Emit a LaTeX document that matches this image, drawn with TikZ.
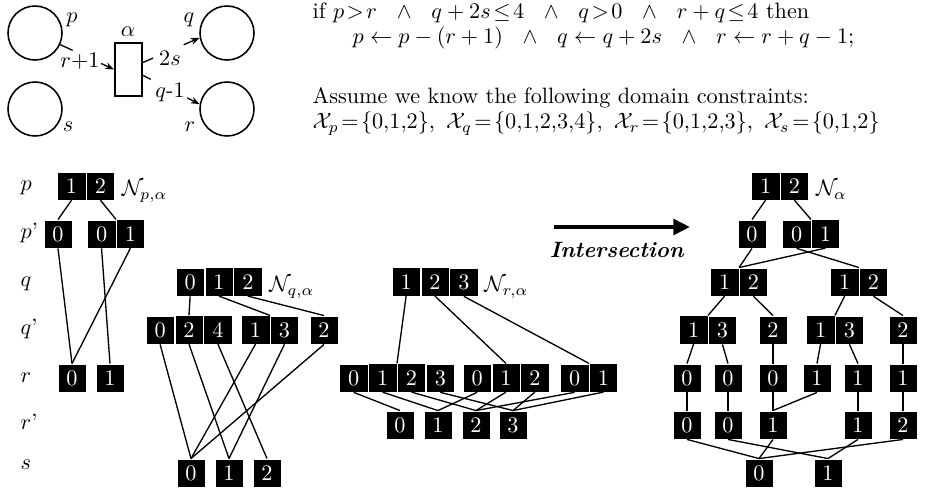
\documentclass[tikz,border=0pt]{standalone}
\usepackage{amsmath}
\usepackage{amssymb}
\usepackage{tikz}
\usetikzlibrary{matrix,arrows.meta}

\tikzset{
  cell/.style={fill=black,text=white,draw=white,line width=.2pt,minimum size=12.8pt,inner sep=0pt},
  mdd/.style={matrix of nodes,nodes={cell},column sep=0pt,inner sep=0pt,outer sep=0pt},
  link/.style={line width=.6pt},
  pnplace/.style={circle,draw,line width=.7pt,minimum size=24.3pt,inner sep=0pt},
  pntrans/.style={rectangle,draw,line width=.7pt,minimum width=12.2pt,minimum height=23.9pt,inner sep=0pt},
  parc/.style={line width=.6pt},
  arrowin/.style={-{Stealth[length=4pt,width=3pt]}},
  rowlbl/.style={anchor=base west,inner sep=1pt},
  nlbl/.style={anchor=base west,inner sep=1pt},
  rule/.style={anchor=base west,inner sep=1pt},
}

\begin{document}
\begin{tikzpicture}[x=0.45pt,y=-0.45pt]
\useasboundingbox (0,0) rectangle (935,492);

% the net
\node[pnplace] (p) at (35,33) {};
\node[pnplace] (s) at (35,109) {};
\node[pnplace] (q) at (227,33) {};
\node[pnplace] (r) at (227,109) {};
\node[pntrans] (t) at (128.5,69.5) {};
\node (lp) at (72,20) {$p$};
\node (ls) at (68,127) {$s$};
\node (lq) at (189,20) {$q$};
\node (lr) at (190,127) {$r$};
\node (la) at (128,32) {$\alpha$};

\path (p) -- (t.west) coordinate[pos=.23] (pt1) coordinate[pos=.76] (pt2);
\path (t.26) -- (q.190) coordinate[pos=.18] (tq1) coordinate[pos=.72] (tq2);
\path (t.-22) -- (r.170) coordinate[pos=.14] (tr1) coordinate[pos=.78] (tr2);
\draw[parc] (p) -- (pt1);
\draw[parc,arrowin] (pt2) -- (t.west);
\draw[parc] (t.26) -- (tq1);
\draw[parc,arrowin] (tq2) -- (q.190);
\draw[parc] (t.-22) -- (tr1);
\draw[parc,arrowin] (tr2) -- (r.170);
\node (w1) at (80,61) {$r$+1};
\node (w2) at (170,58) {2$s$};
\node (w3) at (170,92) {$q$-1};

% the rule
\node[rule] (c1) at (310,19) {if $p\!>\!r\ \ \wedge\ \ q+2s\!\leq\!4\ \ \wedge\ \ q\!>\!0\ \ \wedge\ \ r+q\!\leq\!4$ then};
\node[rule] (c2) at (350,44) {$p\leftarrow p-(r+1)\ \ \wedge\ \ q\leftarrow q+2s\ \ \wedge\ \ r\leftarrow r+q-1$;};
\node[rule] (c3) at (310,104) {Assume we know the following domain constraints:};
\node[rule] (c4) at (310,129) {$\mathcal{X}_p\!=\!\{0{,}1{,}2\},\ \mathcal{X}_q\!=\!\{0{,}1{,}2{,}3{,}4\},\ \mathcal{X}_r\!=\!\{0{,}1{,}2{,}3\},\ \mathcal{X}_s\!=\!\{0{,}1{,}2\}$};

% variable order
\node[rowlbl] (vp) at (18,191) {$p$};
\node[rowlbl] (vpp) at (18,239) {$p$'};
\node[rowlbl] (vq) at (18,287) {$q$};
\node[rowlbl] (vqq) at (18,335) {$q$'};
\node[rowlbl] (vr) at (18,383) {$r$};
\node[rowlbl] (vrr) at (18,430) {$r$'};
\node[rowlbl] (vs) at (18,470) {$s$};

% N_{p,alpha}
\matrix (np1) [mdd] at (86,186) {1 & 2\\};
\node[cell] (np2a) at (58,234) {0};
\matrix (np2b) [mdd] at (116,234) {0 & 1\\};
\node[cell] (np3a) at (72,378) {0};
\node[cell] (np3b) at (110,378) {1};
\node[nlbl] (nlp) at ([xshift=2pt,yshift=-4.5pt]np1.east) {$\mathcal{N}_{p,\alpha}$};
\foreach \a/\b in {np1-1-1/np2a,np1-1-2/np2b,np2a/np3a,np2b-1-1/np3b,np2b-1-2/np3a}
  \draw[link] (\a.south) -- (\b.north);

% N_{q,alpha}
\matrix (nq1) [mdd] at (219,282) {0 & 1 & 2\\};
\matrix (nq2a) [mdd] at (189,330) {0 & 2 & 4\\};
\matrix (nq2b) [mdd] at (270,330) {1 & 3\\};
\node[cell] (nq2c) at (324,330) {2};
\node[cell] (nq3a) at (191,473) {0};
\node[cell] (nq3b) at (229,473) {1};
\node[cell] (nq3c) at (267,473) {2};
\node[nlbl] (nlq) at ([xshift=2pt,yshift=-4.5pt]nq1.east) {$\mathcal{N}_{q,\alpha}$};
\foreach \a/\b in {nq1-1-1/nq2a,nq1-1-2/nq2b,nq1-1-3/nq2c,
  nq2a-1-1/nq3a,nq2a-1-2/nq3b,nq2a-1-3/nq3c,nq2b-1-1/nq3a,nq2b-1-2/nq3b,nq2c/nq3a}
  \draw[link] (\a.south) -- (\b.north);

% N_{r,alpha}
\matrix (nr1) [mdd] at (435,282) {1 & 2 & 3\\};
\matrix (nr2a) [mdd] at (397,378) {0 & 1 & 2 & 3\\};
\matrix (nr2b) [mdd] at (506,378) {0 & 1 & 2\\};
\matrix (nr2c) [mdd] at (589,378) {0 & 1\\};
\node[cell] (nr3a) at (400,425) {0};
\node[cell] (nr3b) at (438,425) {1};
\node[cell] (nr3c) at (476,425) {2};
\node[cell] (nr3d) at (513,425) {3};
\node[nlbl] (nlr) at ([xshift=1.5pt,yshift=-4.5pt]nr1.east) {$\mathcal{N}_{r,\alpha}$};
\foreach \a/\b in {nr1-1-1/nr2a,nr1-1-2/nr2b,nr1-1-3/nr2c,
  nr2a-1-1/nr3a,nr2a-1-2/nr3b,nr2a-1-3/nr3c,nr2a-1-4/nr3d,
  nr2b-1-1/nr3b,nr2b-1-2/nr3c,nr2b-1-3/nr3d,nr2c-1-1/nr3c,nr2c-1-2/nr3d}
  \draw[link] (\a.south) -- (\b.north);

% intersection
\coordinate (ia) at (554,227);
\coordinate (ib) at (690,227);
\draw[line width=1.8pt,-{Triangle[length=7.5pt,width=7pt]}] (ia) -- (ib);
\node (it) at (617,250) {\textbf{\textit{Intersection}}};

% N_alpha
\matrix (na1) [mdd] at (780,186) {1 & 2\\};
\node[cell] (na2a) at (752,234) {0};
\matrix (na2b) [mdd] at (811,234) {0 & 1\\};
\matrix (na3a) [mdd] at (739,282) {1 & 2\\};
\matrix (na3b) [mdd] at (859,282) {1 & 2\\};
\matrix (na4a) [mdd] at (708,330) {1 & 3\\};
\node[cell] (na4b) at (773,330) {2};
\matrix (na4c) [mdd] at (835,330) {1 & 3\\};
\node[cell] (na4d) at (903,330) {2};
\node[cell] (na5a) at (687,378) {0};
\node[cell] (na5b) at (728,378) {0};
\node[cell] (na5c) at (773,378) {0};
\node[cell] (na5d) at (817,378) {1};
\node[cell] (na5e) at (858,378) {1};
\node[cell] (na5f) at (903,378) {1};
\node[cell] (na6a) at (687,425) {0};
\node[cell] (na6b) at (728,425) {0};
\node[cell] (na6c) at (773,425) {1};
\node[cell] (na6d) at (858,425) {1};
\node[cell] (na6e) at (903,425) {2};
\node[cell] (na7a) at (759,473) {0};
\node[cell] (na7b) at (828,473) {1};
\node[nlbl] (nla) at ([xshift=2pt,yshift=-4.5pt]na1.east) {$\mathcal{N}_{\alpha}$};
\foreach \a/\b in {na1-1-1/na2a,na1-1-2/na2b,na2a/na3a,na2b-1-1/na3b,na2b-1-2/na3a,
  na3a-1-1/na4a,na3a-1-2/na4b,na3b-1-1/na4c,na3b-1-2/na4d,
  na4a-1-1/na5a,na4a-1-2/na5b,na4b/na5c,na4c-1-1/na5d,na4c-1-2/na5e,na4d/na5f,
  na5a/na6a,na5b/na6b,na5c/na6c,na5d/na6c,na5e/na6d,na5f/na6e,
  na6a/na7a,na6b/na7b,na6c/na7a,na6d/na7b,na6e/na7a}
  \draw[link] (\a.south) -- (\b.north);
\end{tikzpicture}
\end{document}
